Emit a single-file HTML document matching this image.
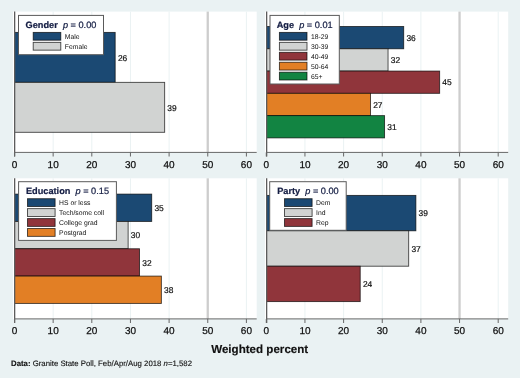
<!DOCTYPE html>
<html><head><meta charset="utf-8"><title>Granite State Poll</title>
<style>
html,body{margin:0;padding:0;background:#EAF2F3;}
body{width:520px;height:378px;overflow:hidden;}
svg{display:block;font-family:"Liberation Sans",sans-serif;will-change:transform;text-rendering:geometricPrecision;}
.tl{font-size:10px;fill:#111111;stroke:#111111;stroke-width:0.25px;}
.vl{font-size:8.4px;fill:#111111;stroke:#111111;stroke-width:0.2px;}
.lt{font-size:9.2px;fill:#151E44;stroke:#151E44;stroke-width:0.22px;white-space:pre;}
.kl{font-size:6.8px;fill:#111111;}
.at{font-size:11.6px;font-weight:bold;fill:#111111;stroke:#111111;stroke-width:0.15px;}
.nt{font-size:7.8px;fill:#111111;stroke:#111111;stroke-width:0.12px;}
</style></head>
<body>
<svg width="520" height="378" viewBox="0 0 520 378">
<rect x="0" y="0" width="520" height="378" fill="#EAF2F3"/>
<rect x="12.90" y="11.60" width="243.80" height="140.80" fill="#fff"/>
<line x1="53.15" y1="11.60" x2="53.15" y2="152.40" stroke="#EAF2F3" stroke-width="1"/>
<line x1="91.80" y1="11.60" x2="91.80" y2="152.40" stroke="#EAF2F3" stroke-width="1"/>
<line x1="130.45" y1="11.60" x2="130.45" y2="152.40" stroke="#EAF2F3" stroke-width="1"/>
<line x1="169.10" y1="11.60" x2="169.10" y2="152.40" stroke="#EAF2F3" stroke-width="1"/>
<line x1="246.40" y1="11.60" x2="246.40" y2="152.40" stroke="#EAF2F3" stroke-width="1"/>
<line x1="207.75" y1="11.60" x2="207.75" y2="152.40" stroke="#CDCDCD" stroke-width="2.3"/>
<rect x="14.50" y="32.40" width="100.68" height="49.95" fill="#1B4973" stroke="rgba(0,0,0,0.72)" stroke-width="0.9"/>
<text x="117.88" y="60.58" class="vl">26</text>
<rect x="14.50" y="82.35" width="150.16" height="49.95" fill="#D1D3D2" stroke="rgba(0,0,0,0.72)" stroke-width="0.9"/>
<text x="167.36" y="110.52" class="vl">39</text>
<line x1="14.65" y1="11.60" x2="14.65" y2="156.50" stroke="#5c5c5c" stroke-width="1.3"/>
<line x1="14.00" y1="152.40" x2="256.70" y2="152.40" stroke="#666666" stroke-width="1"/>
<line x1="14.50" y1="152.40" x2="14.50" y2="156.50" stroke="#666666" stroke-width="1"/>
<text x="14.50" y="167.60" class="tl" text-anchor="middle">0</text>
<line x1="53.15" y1="152.40" x2="53.15" y2="156.50" stroke="#666666" stroke-width="1"/>
<text x="53.15" y="167.60" class="tl" text-anchor="middle">10</text>
<line x1="91.80" y1="152.40" x2="91.80" y2="156.50" stroke="#666666" stroke-width="1"/>
<text x="91.80" y="167.60" class="tl" text-anchor="middle">20</text>
<line x1="130.45" y1="152.40" x2="130.45" y2="156.50" stroke="#666666" stroke-width="1"/>
<text x="130.45" y="167.60" class="tl" text-anchor="middle">30</text>
<line x1="169.10" y1="152.40" x2="169.10" y2="156.50" stroke="#666666" stroke-width="1"/>
<text x="169.10" y="167.60" class="tl" text-anchor="middle">40</text>
<line x1="207.75" y1="152.40" x2="207.75" y2="156.50" stroke="#666666" stroke-width="1"/>
<text x="207.75" y="167.60" class="tl" text-anchor="middle">50</text>
<line x1="246.40" y1="152.40" x2="246.40" y2="156.50" stroke="#666666" stroke-width="1"/>
<text x="246.40" y="167.60" class="tl" text-anchor="middle">60</text>
<rect x="18.50" y="15.40" width="85.00" height="39.30" fill="#fff" stroke="#5a5a5a" stroke-width="1"/>
<text x="61.00" y="27.90" class="lt" text-anchor="middle"><tspan font-weight="bold">Gender</tspan>  <tspan font-style="italic">p</tspan> = 0.00</text>
<rect x="33.20" y="32.40" width="27.6" height="7.8" fill="#1B4973" stroke="rgba(0,0,0,0.72)" stroke-width="0.9"/>
<text x="64.80" y="38.80" class="kl">Male</text>
<rect x="33.20" y="42.35" width="27.6" height="7.8" fill="#D1D3D2" stroke="rgba(0,0,0,0.72)" stroke-width="0.9"/>
<text x="64.80" y="48.75" class="kl">Female</text>
<rect x="264.90" y="11.60" width="243.30" height="140.80" fill="#fff"/>
<line x1="304.95" y1="11.60" x2="304.95" y2="152.40" stroke="#EAF2F3" stroke-width="1"/>
<line x1="343.60" y1="11.60" x2="343.60" y2="152.40" stroke="#EAF2F3" stroke-width="1"/>
<line x1="382.25" y1="11.60" x2="382.25" y2="152.40" stroke="#EAF2F3" stroke-width="1"/>
<line x1="420.90" y1="11.60" x2="420.90" y2="152.40" stroke="#EAF2F3" stroke-width="1"/>
<line x1="498.20" y1="11.60" x2="498.20" y2="152.40" stroke="#EAF2F3" stroke-width="1"/>
<line x1="459.55" y1="11.60" x2="459.55" y2="152.40" stroke="#CDCDCD" stroke-width="2.3"/>
<rect x="266.50" y="26.50" width="137.20" height="22.28" fill="#1B4973" stroke="rgba(0,0,0,0.72)" stroke-width="0.9"/>
<text x="406.40" y="40.84" class="vl">36</text>
<rect x="266.50" y="48.78" width="121.55" height="22.28" fill="#D1D3D2" stroke="rgba(0,0,0,0.72)" stroke-width="0.9"/>
<text x="390.75" y="63.12" class="vl">32</text>
<rect x="266.50" y="71.06" width="173.15" height="22.28" fill="#90353B" stroke="rgba(0,0,0,0.72)" stroke-width="0.9"/>
<text x="442.35" y="85.40" class="vl">45</text>
<rect x="266.50" y="93.34" width="103.96" height="22.28" fill="#E27F25" stroke="rgba(0,0,0,0.72)" stroke-width="0.9"/>
<text x="373.16" y="107.68" class="vl">27</text>
<rect x="266.50" y="115.62" width="118.07" height="22.28" fill="#128442" stroke="rgba(0,0,0,0.72)" stroke-width="0.9"/>
<text x="387.27" y="129.96" class="vl">31</text>
<line x1="266.65" y1="11.60" x2="266.65" y2="156.50" stroke="#5c5c5c" stroke-width="1.3"/>
<line x1="266.00" y1="152.40" x2="508.20" y2="152.40" stroke="#666666" stroke-width="1"/>
<line x1="266.30" y1="152.40" x2="266.30" y2="156.50" stroke="#666666" stroke-width="1"/>
<text x="266.30" y="167.60" class="tl" text-anchor="middle">0</text>
<line x1="304.95" y1="152.40" x2="304.95" y2="156.50" stroke="#666666" stroke-width="1"/>
<text x="304.95" y="167.60" class="tl" text-anchor="middle">10</text>
<line x1="343.60" y1="152.40" x2="343.60" y2="156.50" stroke="#666666" stroke-width="1"/>
<text x="343.60" y="167.60" class="tl" text-anchor="middle">20</text>
<line x1="382.25" y1="152.40" x2="382.25" y2="156.50" stroke="#666666" stroke-width="1"/>
<text x="382.25" y="167.60" class="tl" text-anchor="middle">30</text>
<line x1="420.90" y1="152.40" x2="420.90" y2="156.50" stroke="#666666" stroke-width="1"/>
<text x="420.90" y="167.60" class="tl" text-anchor="middle">40</text>
<line x1="459.55" y1="152.40" x2="459.55" y2="156.50" stroke="#666666" stroke-width="1"/>
<text x="459.55" y="167.60" class="tl" text-anchor="middle">50</text>
<line x1="498.20" y1="152.40" x2="498.20" y2="156.50" stroke="#666666" stroke-width="1"/>
<text x="498.20" y="167.60" class="tl" text-anchor="middle">60</text>
<rect x="270.00" y="15.40" width="69.30" height="68.60" fill="#fff" stroke="#5a5a5a" stroke-width="1"/>
<text x="304.65" y="27.90" class="lt" text-anchor="middle"><tspan font-weight="bold">Age</tspan>  <tspan font-style="italic">p</tspan> = 0.01</text>
<rect x="279.40" y="32.40" width="27.6" height="7.8" fill="#1B4973" stroke="rgba(0,0,0,0.72)" stroke-width="0.9"/>
<text x="311.00" y="38.80" class="kl">18-29</text>
<rect x="279.40" y="42.35" width="27.6" height="7.8" fill="#D1D3D2" stroke="rgba(0,0,0,0.72)" stroke-width="0.9"/>
<text x="311.00" y="48.75" class="kl">30-39</text>
<rect x="279.40" y="52.30" width="27.6" height="7.8" fill="#90353B" stroke="rgba(0,0,0,0.72)" stroke-width="0.9"/>
<text x="311.00" y="58.70" class="kl">40-49</text>
<rect x="279.40" y="62.25" width="27.6" height="7.8" fill="#E27F25" stroke="rgba(0,0,0,0.72)" stroke-width="0.9"/>
<text x="311.00" y="68.65" class="kl">50-64</text>
<rect x="279.40" y="72.20" width="27.6" height="7.8" fill="#128442" stroke="rgba(0,0,0,0.72)" stroke-width="0.9"/>
<text x="311.00" y="78.60" class="kl">65+</text>
<rect x="12.90" y="178.30" width="243.80" height="140.60" fill="#fff"/>
<line x1="53.15" y1="178.30" x2="53.15" y2="318.90" stroke="#EAF2F3" stroke-width="1"/>
<line x1="91.80" y1="178.30" x2="91.80" y2="318.90" stroke="#EAF2F3" stroke-width="1"/>
<line x1="130.45" y1="178.30" x2="130.45" y2="318.90" stroke="#EAF2F3" stroke-width="1"/>
<line x1="169.10" y1="178.30" x2="169.10" y2="318.90" stroke="#EAF2F3" stroke-width="1"/>
<line x1="246.40" y1="178.30" x2="246.40" y2="318.90" stroke="#EAF2F3" stroke-width="1"/>
<line x1="207.75" y1="178.30" x2="207.75" y2="318.90" stroke="#CDCDCD" stroke-width="2.3"/>
<rect x="14.50" y="194.10" width="137.21" height="27.33" fill="#1B4973" stroke="rgba(0,0,0,0.72)" stroke-width="0.9"/>
<text x="154.41" y="210.96" class="vl">35</text>
<rect x="14.50" y="221.43" width="113.63" height="27.33" fill="#D1D3D2" stroke="rgba(0,0,0,0.72)" stroke-width="0.9"/>
<text x="130.83" y="238.29" class="vl">30</text>
<rect x="14.50" y="248.76" width="125.03" height="27.33" fill="#90353B" stroke="rgba(0,0,0,0.72)" stroke-width="0.9"/>
<text x="142.23" y="265.62" class="vl">32</text>
<rect x="14.50" y="276.09" width="146.87" height="27.33" fill="#E27F25" stroke="rgba(0,0,0,0.72)" stroke-width="0.9"/>
<text x="164.07" y="292.95" class="vl">38</text>
<line x1="14.65" y1="178.30" x2="14.65" y2="323.00" stroke="#5c5c5c" stroke-width="1.3"/>
<line x1="14.00" y1="318.90" x2="256.70" y2="318.90" stroke="#666666" stroke-width="1"/>
<line x1="14.50" y1="318.90" x2="14.50" y2="323.00" stroke="#666666" stroke-width="1"/>
<text x="14.50" y="334.10" class="tl" text-anchor="middle">0</text>
<line x1="53.15" y1="318.90" x2="53.15" y2="323.00" stroke="#666666" stroke-width="1"/>
<text x="53.15" y="334.10" class="tl" text-anchor="middle">10</text>
<line x1="91.80" y1="318.90" x2="91.80" y2="323.00" stroke="#666666" stroke-width="1"/>
<text x="91.80" y="334.10" class="tl" text-anchor="middle">20</text>
<line x1="130.45" y1="318.90" x2="130.45" y2="323.00" stroke="#666666" stroke-width="1"/>
<text x="130.45" y="334.10" class="tl" text-anchor="middle">30</text>
<line x1="169.10" y1="318.90" x2="169.10" y2="323.00" stroke="#666666" stroke-width="1"/>
<text x="169.10" y="334.10" class="tl" text-anchor="middle">40</text>
<line x1="207.75" y1="318.90" x2="207.75" y2="323.00" stroke="#666666" stroke-width="1"/>
<text x="207.75" y="334.10" class="tl" text-anchor="middle">50</text>
<line x1="246.40" y1="318.90" x2="246.40" y2="323.00" stroke="#666666" stroke-width="1"/>
<text x="246.40" y="334.10" class="tl" text-anchor="middle">60</text>
<rect x="18.60" y="181.70" width="97.80" height="58.70" fill="#fff" stroke="#5a5a5a" stroke-width="1"/>
<text x="67.50" y="194.20" class="lt" text-anchor="middle"><tspan font-weight="bold">Education</tspan>  <tspan font-style="italic">p</tspan> = 0.15</text>
<rect x="27.50" y="198.70" width="27.6" height="7.8" fill="#1B4973" stroke="rgba(0,0,0,0.72)" stroke-width="0.9"/>
<text x="59.10" y="205.10" class="kl">HS or less</text>
<rect x="27.50" y="208.65" width="27.6" height="7.8" fill="#D1D3D2" stroke="rgba(0,0,0,0.72)" stroke-width="0.9"/>
<text x="59.10" y="215.05" class="kl">Tech/some coll</text>
<rect x="27.50" y="218.60" width="27.6" height="7.8" fill="#90353B" stroke="rgba(0,0,0,0.72)" stroke-width="0.9"/>
<text x="59.10" y="225.00" class="kl">College grad</text>
<rect x="27.50" y="228.55" width="27.6" height="7.8" fill="#E27F25" stroke="rgba(0,0,0,0.72)" stroke-width="0.9"/>
<text x="59.10" y="234.95" class="kl">Postgrad</text>
<rect x="264.90" y="178.30" width="243.30" height="140.60" fill="#fff"/>
<line x1="304.95" y1="178.30" x2="304.95" y2="318.90" stroke="#EAF2F3" stroke-width="1"/>
<line x1="343.60" y1="178.30" x2="343.60" y2="318.90" stroke="#EAF2F3" stroke-width="1"/>
<line x1="382.25" y1="178.30" x2="382.25" y2="318.90" stroke="#EAF2F3" stroke-width="1"/>
<line x1="420.90" y1="178.30" x2="420.90" y2="318.90" stroke="#EAF2F3" stroke-width="1"/>
<line x1="498.20" y1="178.30" x2="498.20" y2="318.90" stroke="#EAF2F3" stroke-width="1"/>
<line x1="459.55" y1="178.30" x2="459.55" y2="318.90" stroke="#CDCDCD" stroke-width="2.3"/>
<rect x="266.50" y="195.40" width="149.38" height="35.40" fill="#1B4973" stroke="rgba(0,0,0,0.72)" stroke-width="0.9"/>
<text x="418.58" y="216.30" class="vl">39</text>
<rect x="266.50" y="230.80" width="142.19" height="35.40" fill="#D1D3D2" stroke="rgba(0,0,0,0.72)" stroke-width="0.9"/>
<text x="411.39" y="251.70" class="vl">37</text>
<rect x="266.50" y="266.20" width="93.72" height="35.40" fill="#90353B" stroke="rgba(0,0,0,0.72)" stroke-width="0.9"/>
<text x="362.92" y="287.10" class="vl">24</text>
<line x1="266.65" y1="178.30" x2="266.65" y2="323.00" stroke="#5c5c5c" stroke-width="1.3"/>
<line x1="266.00" y1="318.90" x2="508.20" y2="318.90" stroke="#666666" stroke-width="1"/>
<line x1="266.30" y1="318.90" x2="266.30" y2="323.00" stroke="#666666" stroke-width="1"/>
<text x="266.30" y="334.10" class="tl" text-anchor="middle">0</text>
<line x1="304.95" y1="318.90" x2="304.95" y2="323.00" stroke="#666666" stroke-width="1"/>
<text x="304.95" y="334.10" class="tl" text-anchor="middle">10</text>
<line x1="343.60" y1="318.90" x2="343.60" y2="323.00" stroke="#666666" stroke-width="1"/>
<text x="343.60" y="334.10" class="tl" text-anchor="middle">20</text>
<line x1="382.25" y1="318.90" x2="382.25" y2="323.00" stroke="#666666" stroke-width="1"/>
<text x="382.25" y="334.10" class="tl" text-anchor="middle">30</text>
<line x1="420.90" y1="318.90" x2="420.90" y2="323.00" stroke="#666666" stroke-width="1"/>
<text x="420.90" y="334.10" class="tl" text-anchor="middle">40</text>
<line x1="459.55" y1="318.90" x2="459.55" y2="323.00" stroke="#666666" stroke-width="1"/>
<text x="459.55" y="334.10" class="tl" text-anchor="middle">50</text>
<line x1="498.20" y1="318.90" x2="498.20" y2="323.00" stroke="#666666" stroke-width="1"/>
<text x="498.20" y="334.10" class="tl" text-anchor="middle">60</text>
<rect x="269.70" y="181.70" width="76.50" height="48.60" fill="#fff" stroke="#5a5a5a" stroke-width="1"/>
<text x="307.95" y="194.20" class="lt" text-anchor="middle"><tspan font-weight="bold">Party</tspan>  <tspan font-style="italic">p</tspan> = 0.00</text>
<rect x="284.50" y="198.70" width="27.6" height="7.8" fill="#1B4973" stroke="rgba(0,0,0,0.72)" stroke-width="0.9"/>
<text x="316.10" y="205.10" class="kl">Dem</text>
<rect x="284.50" y="208.65" width="27.6" height="7.8" fill="#D1D3D2" stroke="rgba(0,0,0,0.72)" stroke-width="0.9"/>
<text x="316.10" y="215.05" class="kl">Ind</text>
<rect x="284.50" y="218.60" width="27.6" height="7.8" fill="#90353B" stroke="rgba(0,0,0,0.72)" stroke-width="0.9"/>
<text x="316.10" y="225.00" class="kl">Rep</text>
<text x="259.7" y="352.9" class="at" text-anchor="middle">Weighted percent</text>
<text x="11" y="366" class="nt"><tspan font-weight="bold">Data:</tspan> Granite State Poll, Feb/Apr/Aug 2018 <tspan font-style="italic">n</tspan>=1,582</text>
</svg>
</body></html>
